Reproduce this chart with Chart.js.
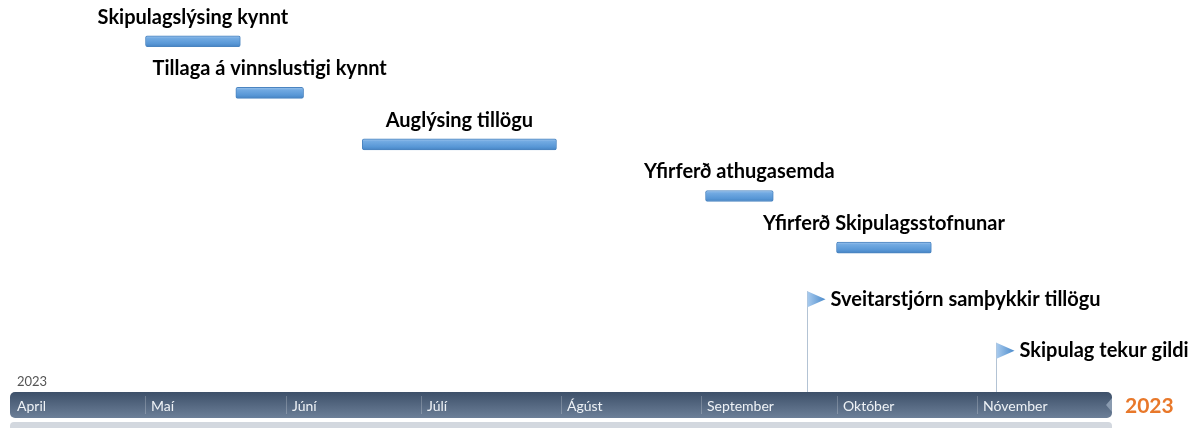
<!DOCTYPE html>
<html>
<head>
<meta charset="utf-8">
<script src="https://cdn.jsdelivr.net/npm/chart.js@4"></script>
<style>
  body { margin: 0; background: #fff; }
  #wrap { width: 1191px; height: 428px; position: relative; }
</style>
</head>
<body>
<div id="wrap"><canvas id="timeline"></canvas></div>
<script>
// days counted from 1 April 2023
var monthNames = ["April", "Maí", "Júní", "Júlí", "Ágúst", "September", "Október", "Nóvember"];
var monthStarts = [0, 30, 61, 91, 122, 153, 183, 214];
var yearEnd = 244;
var yearLabel = "2023";

var taskNames = [
  "Skipulagslýsing kynnt",
  "Tillaga á vinnslustigi kynnt",
  "Auglýsing tillögu",
  "Yfirferð athugasemda",
  "Yfirferð Skipulagsstofnunar"
];
var taskStart = [30, 50, 78, 154, 183];
var taskEnd = [51, 65, 121, 169, 204];

var milestoneNames = ["Sveitarstjórn samþykkir tillögu", "Skipulag tekur gildi"];
var milestoneDay = [176.5, 218.3];

var labelFont = "bold 20px Lato, 'Open Sans', sans-serif";

function barFill(context) {
  if (context.type !== "data" || !context.chart.chartArea) return "#5b9bd5";
  var chart = context.chart;
  var y = chart.scales.y.getPixelForValue(context.dataIndex);
  if (!isFinite(y)) return "#5b9bd5";
  var g = chart.ctx.createLinearGradient(0, y - 6, 0, y + 6);
  g.addColorStop(0, "#a9cbef");
  g.addColorStop(0.25, "#72aae2");
  g.addColorStop(0.7, "#5897d6");
  g.addColorStop(1, "#4380bf");
  return g;
}

// timeline band under the chart area
var bandPlugin = {
  id: "band",
  beforeDatasetsDraw: function (chart) {
    var c = chart.ctx;
    var xs = chart.scales.x;
    var left = xs.getPixelForValue(0);
    var right = xs.getPixelForValue(yearEnd);
    var top = chart.chartArea.bottom;
    var h = 26;

    // milestone stems go behind everything
    var meta = chart.getDatasetMeta(1);
    c.save();
    c.strokeStyle = "#b3c3d4";
    c.lineWidth = 1;
    meta.data.forEach(function (pt) {
      c.beginPath();
      c.moveTo(Math.round(pt.x) + 0.5, pt.y - 8);
      c.lineTo(Math.round(pt.x) + 0.5, top);
      c.stroke();
    });

    // light strip below
    c.fillStyle = "#d3d8df";
    c.beginPath();
    c.roundRect(left, top + h + 4, right - left, 10, 4);
    c.fill();

    // main band
    var g = c.createLinearGradient(0, top, 0, top + h);
    g.addColorStop(0, "#3d5069");
    g.addColorStop(1, "#6c7f98");
    c.fillStyle = g;
    c.beginPath();
    c.roundRect(left, top, right - left, h, 5);
    c.fill();
    // notch at right end
    c.fillStyle = "#8a9bb0";
    c.beginPath();
    c.moveTo(right, top + 6);
    c.lineTo(right - 6, top + h / 2);
    c.lineTo(right, top + h - 6);
    c.closePath();
    c.fill();

    // month separators and names
    c.font = "14px Lato, 'Open Sans', sans-serif";
    c.textBaseline = "middle";
    c.textAlign = "left";
    monthStarts.forEach(function (d, i) {
      var x = Math.round(xs.getPixelForValue(d));
      if (i > 0) {
        c.fillStyle = "rgba(255,255,255,0.22)";
        c.fillRect(x, top + 4, 1, h - 8);
      }
      c.fillStyle = "#eef2f6";
      c.fillText(monthNames[i], x + (i === 0 ? 7 : 6), top + h / 2 + 1);
    });

    // year labels
    c.fillStyle = "#555";
    c.font = "13px Lato, 'Open Sans', sans-serif";
    c.fillText(yearLabel, left + 7, top - 10);
    c.fillStyle = "#e8782a";
    c.font = "bold 21px Lato, 'Open Sans', sans-serif";
    c.fillText(yearLabel, right + 13, top + h / 2 + 1);
    c.restore();
  },
  afterDatasetsDraw: function (chart) {
    var c = chart.ctx;
    c.save();
    c.font = labelFont;
    c.fillStyle = "#000";
    c.textBaseline = "middle";

    // task labels centred above bars
    c.textAlign = "center";
    chart.getDatasetMeta(0).data.forEach(function (bar, i) {
      c.fillText(taskNames[i], (bar.x + bar.base) / 2, bar.y - 24);
    });

    // milestone flags
    c.textAlign = "left";
    chart.getDatasetMeta(1).data.forEach(function (pt, i) {
      var x = Math.round(pt.x) + 0.5;
      var g = c.createLinearGradient(x, 0, x + 18, 0);
      g.addColorStop(0, "#a9cbee");
      g.addColorStop(1, "#4a8acb");
      c.fillStyle = g;
      c.beginPath();
      c.moveTo(x, pt.y - 8);
      c.lineTo(x + 18, pt.y);
      c.lineTo(x, pt.y + 8);
      c.closePath();
      c.fill();
      c.fillStyle = "#000";
      c.fillText(milestoneNames[i], x + 23, pt.y);
    });
    c.restore();
  }
};

var ctx = document.getElementById("timeline").getContext("2d");

var chart = new Chart(ctx, {
  type: "bar",
  data: {
    datasets: [
      {
        type: "bar",
        data: taskNames.map(function (n, i) {
          return { x: [taskStart[i], taskEnd[i]], y: i };
        }),
        barThickness: 11,
        backgroundColor: barFill,
        borderColor: "#4a84c0",
        borderWidth: 1,
        borderRadius: 2,
        borderSkipped: false
      },
      {
        type: "scatter",
        data: milestoneNames.map(function (n, i) {
          return { x: milestoneDay[i], y: taskNames.length + i };
        }),
        pointRadius: 0,
        pointHoverRadius: 0
      }
    ]
  },
  options: {
    indexAxis: "y",
    responsive: true,
    maintainAspectRatio: false,
    animation: false,
    layout: { padding: { left: 10, right: 79, top: 0, bottom: 36 } },
    scales: {
      x: { type: "linear", min: 0, max: yearEnd, display: false, offset: false },
      y: { type: "linear", min: -0.8, max: 6.8, reverse: true, display: false, offset: false }
    },
    plugins: {
      legend: { display: false },
      tooltip: { enabled: false }
    }
  },
  plugins: [bandPlugin]
});
</script>
</body>
</html>
